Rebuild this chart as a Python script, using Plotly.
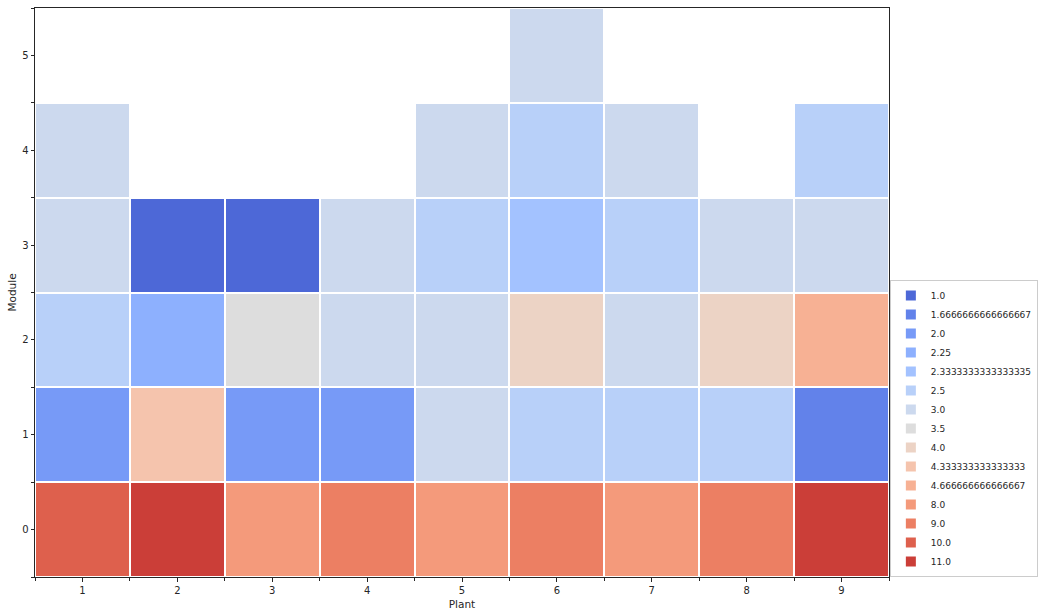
import plotly.graph_objects as go

plants = [1, 2, 3, 4, 5, 6, 7, 8, 9]
modules = [0, 1, 2, 3, 4, 5]

# values[module][plant index]; None = no cell
values = [
    [10.0, 11.0, 8.0, 9.0, 8.0, 9.0, 8.0, 9.0, 11.0],
    [2.0, 4.333333333333333, 2.0, 2.0, 3.0, 2.5, 2.5, 2.5, 1.6666666666666667],
    [2.5, 2.25, 3.5, 3.0, 3.0, 4.0, 3.0, 4.0, 4.666666666666667],
    [3.0, 1.0, 1.0, 3.0, 2.5, 2.3333333333333335, 2.5, 3.0, 3.0],
    [3.0, None, None, None, 3.0, 2.5, 3.0, None, 2.5],
    [None, None, None, None, None, 3.0, None, None, None],
]

categories = [1.0, 1.6666666666666667, 2.0, 2.25, 2.3333333333333335, 2.5, 3.0,
              3.5, 4.0, 4.333333333333333, 4.666666666666667, 8.0, 9.0, 10.0, 11.0]

palette = ["#4d68d7", "#6282ea", "#779af7", "#8db0fe", "#a3c2ff", "#b8d0f9",
           "#ccd9ee", "#dddddd", "#ecd3c5", "#f5c4ad", "#f7b194", "#f49a7b",
           "#ec7f63", "#de604d", "#cb3e38"]

fig = go.Figure()
for cat, col in zip(categories, palette):
    xs, bases = [], []
    for mi, m in enumerate(modules):
        for pi, p in enumerate(plants):
            v = values[mi][pi]
            if v is not None and v == cat:
                xs.append(p)
                bases.append(m - 0.5)
    fig.add_trace(go.Bar(
        x=xs, y=[1] * len(xs), base=bases, width=1,
        marker=dict(color=col, line=dict(color="white", width=2)),
        name=str(cat), showlegend=True,
    ))

axis_common = dict(
    showline=True, linecolor="#262626", linewidth=1, mirror=True,
    ticks="outside", ticklen=3.5, tickwidth=0.8, tickcolor="#262626",
    showgrid=False, zeroline=False,
    tickfont=dict(family="DejaVu Sans", size=10, color="#262626"),
)

fig.update_layout(
    width=1045, height=616,
    margin=dict(l=35, r=154, t=7, b=38),
    paper_bgcolor="white", plot_bgcolor="white",
    barmode="overlay", bargap=0,
    font=dict(family="DejaVu Sans", size=10, color="#262626"),
    xaxis=dict(range=[0.5, 9.5], tickvals=plants, ticktext=[str(p) for p in plants],
               title=dict(text="Plant", font=dict(size=10.5), standoff=6),
               minor=dict(tick0=0.5, dtick=1, ticks="outside", ticklen=3, tickcolor="#262626"),
               **axis_common),
    yaxis=dict(range=[-0.5, 5.5], tickvals=modules, ticktext=[str(m) for m in modules],
               title=dict(text="Module", font=dict(size=10.5), standoff=3),
               minor=dict(tick0=0.5, dtick=1, ticks="outside", ticklen=3, tickcolor="#262626"),
               **axis_common),
    legend=dict(x=1.001, y=0, xanchor="left", yanchor="bottom",
                bgcolor="white", bordercolor="#cccccc", borderwidth=1,
                font=dict(family="DejaVu Sans", size=9, color="#262626"),
                tracegroupgap=0, itemwidth=30),
)

fig.write_html("out.html")
